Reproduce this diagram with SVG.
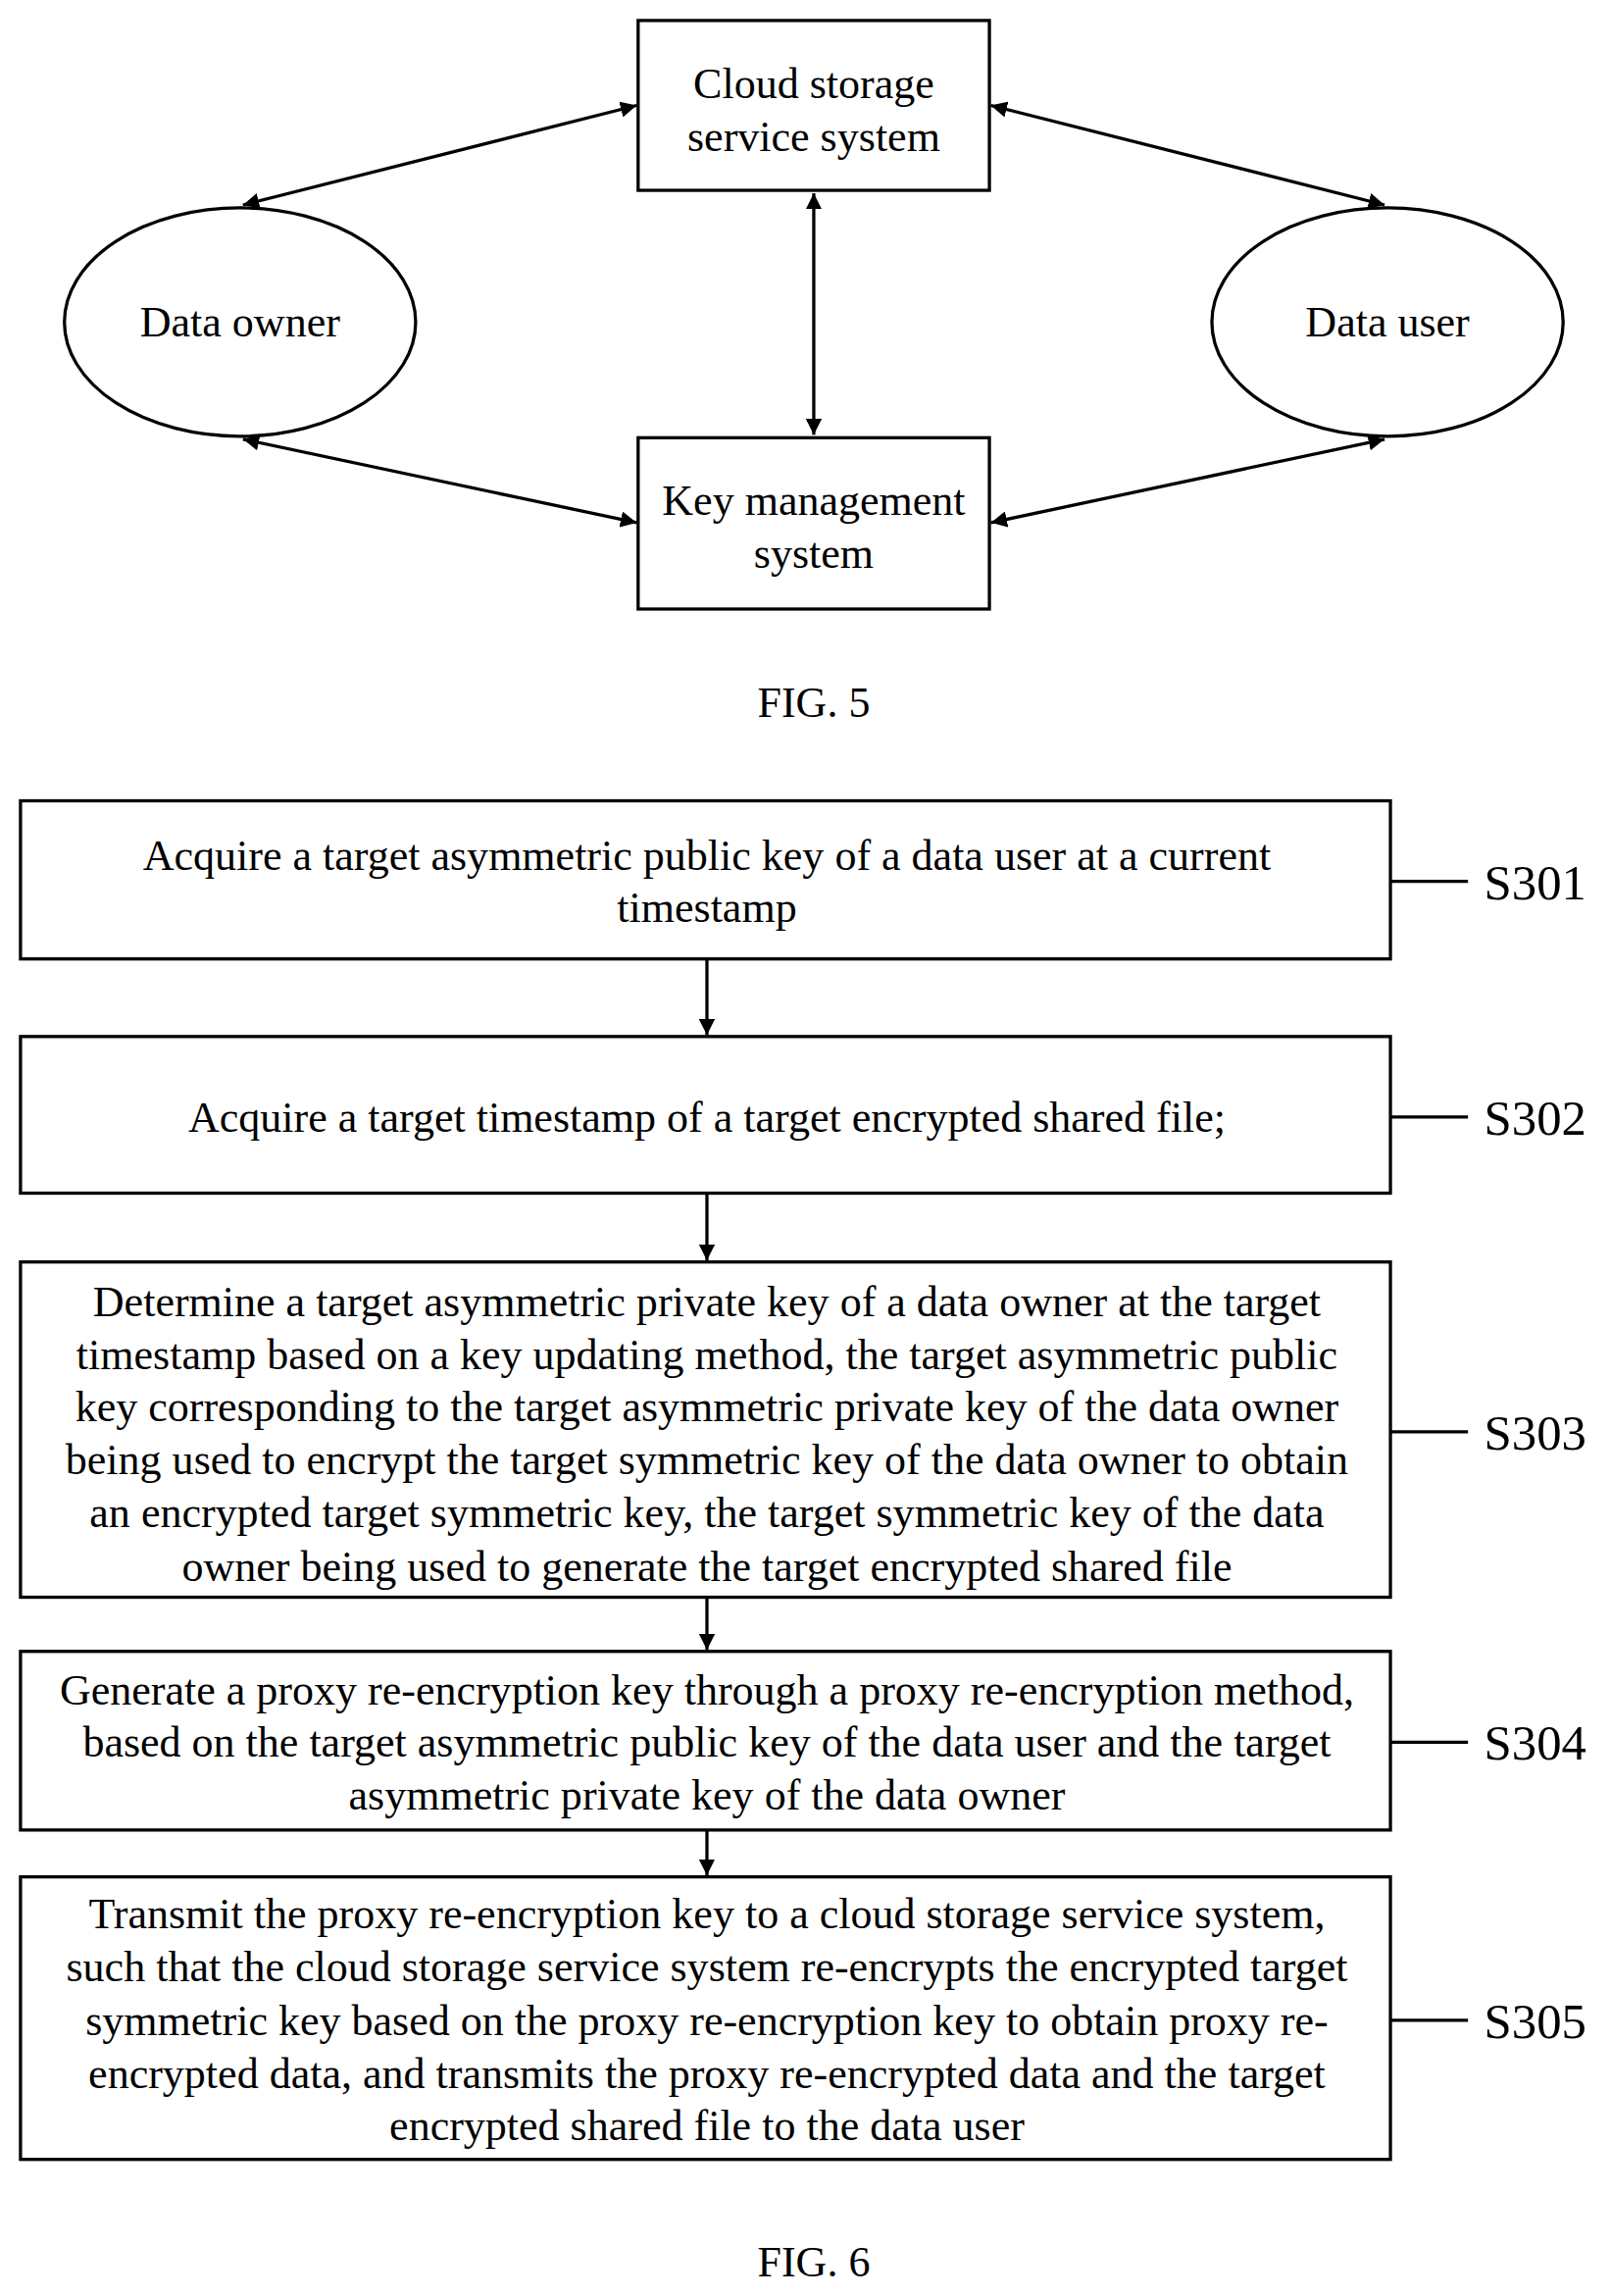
<svg xmlns="http://www.w3.org/2000/svg" width="1642" height="2341" viewBox="0 0 1642 2341">
<defs>
<marker id="ah" viewBox="0 0 10 10" refX="10" refY="5" markerWidth="11" markerHeight="11" markerUnits="userSpaceOnUse" orient="auto-start-reverse"><path d="M0,0 L10,5 L0,10 z" fill="#000"/></marker>
<style>
.b{fill:#fff;stroke:#000;stroke-width:2.2}
.t{font-family:"Liberation Serif","Times New Roman",serif;font-size:29.5px;text-anchor:middle;fill:#000}
.l{font-family:"Liberation Serif","Times New Roman",serif;font-size:34px;fill:#000}
.c{stroke:#000;stroke-width:2.2;fill:none}
</style>
</defs>
<rect width="1642" height="2341" fill="#fff"/>
<g transform="scale(1.4927)">
<g id="cloud"><rect class="b" x="436" y="14" width="240" height="116"/><text class="t" x="556" y="67">Cloud storage</text><text class="t" x="556" y="103">service system</text></g>
<g id="kms"><rect class="b" x="436" y="299" width="240" height="117"/><text class="t" x="556" y="352">Key management</text><text class="t" x="556" y="388">system</text></g>
<g id="owner"><ellipse class="b" cx="164" cy="220" rx="120" ry="78"/><text class="t" x="164" y="230">Data owner</text></g>
<g id="user"><ellipse class="b" cx="948" cy="220" rx="120" ry="78"/><text class="t" x="948" y="230">Data user</text></g>
<g id="connectors">
<line class="c" x1="166" y1="140" x2="435" y2="72" marker-start="url(#ah)" marker-end="url(#ah)"/>
<line class="c" x1="677" y1="72" x2="946" y2="140" marker-start="url(#ah)" marker-end="url(#ah)"/>
<line class="c" x1="556" y1="132" x2="556" y2="297" marker-start="url(#ah)" marker-end="url(#ah)"/>
<line class="c" x1="166" y1="300" x2="435" y2="357" marker-start="url(#ah)" marker-end="url(#ah)"/>
<line class="c" x1="946" y1="300" x2="677" y2="357" marker-start="url(#ah)" marker-end="url(#ah)"/>
<line class="c" x1="483" y1="655" x2="483" y2="707" marker-end="url(#ah)"/>
<line class="c" x1="483" y1="815" x2="483" y2="861" marker-end="url(#ah)"/>
<line class="c" x1="483" y1="1091" x2="483" y2="1127" marker-end="url(#ah)"/>
<line class="c" x1="483" y1="1250" x2="483" y2="1281" marker-end="url(#ah)"/>
<line class="c" x1="950" y1="602" x2="1003" y2="602"/>
<line class="c" x1="950" y1="763" x2="1003" y2="763"/>
<line class="c" x1="950" y1="978" x2="1003" y2="978"/>
<line class="c" x1="950" y1="1190" x2="1003" y2="1190"/>
<line class="c" x1="950" y1="1380" x2="1003" y2="1380"/>
</g>
<text class="t" x="556" y="490">FIG. 5</text>
<g id="s301"><rect class="b" x="14" y="547" width="936" height="108"/><text class="t" x="483" y="594">Acquire a target asymmetric public key of a data user at a current</text><text class="t" x="483" y="630">timestamp</text><text class="l" x="1014" y="614">S301</text></g>
<g id="s302"><rect class="b" x="14" y="708" width="936" height="107"/><text class="t" x="483" y="773">Acquire a target timestamp of a target encrypted shared file;</text><text class="l" x="1014" y="775">S302</text></g>
<g id="s303"><rect class="b" x="14" y="862" width="936" height="229"/>
<text class="t" x="483" y="899">Determine a target asymmetric private key of a data owner at the target</text>
<text class="t" x="483" y="935">timestamp based on a key updating method, the target asymmetric public</text>
<text class="t" x="483" y="971">key corresponding to the target asymmetric private key of the data owner</text>
<text class="t" x="483" y="1007">being used to encrypt the target symmetric key of the data owner to obtain</text>
<text class="t" x="483" y="1043">an encrypted target symmetric key, the target symmetric key of the data</text>
<text class="t" x="483" y="1080">owner being used to generate the target encrypted shared file</text>
<text class="l" x="1014" y="990">S303</text></g>
<g id="s304"><rect class="b" x="14" y="1128" width="936" height="122"/>
<text class="t" x="483" y="1164">Generate a proxy re-encryption key through a proxy re-encryption method,</text>
<text class="t" x="483" y="1200">based on the target asymmetric public key of the data user and the target</text>
<text class="t" x="483" y="1236">asymmetric private key of the data owner</text>
<text class="l" x="1014" y="1202">S304</text></g>
<g id="s305"><rect class="b" x="14" y="1282" width="936" height="193"/>
<text class="t" x="483" y="1317">Transmit the proxy re-encryption key to a cloud storage service system,</text>
<text class="t" x="483" y="1353">such that the cloud storage service system re-encrypts the encrypted target</text>
<text class="t" x="483" y="1390">symmetric key based on the proxy re-encryption key to obtain proxy re-</text>
<text class="t" x="483" y="1426">encrypted data, and transmits the proxy re-encrypted data and the target</text>
<text class="t" x="483" y="1462">encrypted shared file to the data user</text>
<text class="l" x="1014" y="1392">S305</text></g>
<text class="t" x="556" y="1555">FIG. 6</text>
</g>
</svg>
